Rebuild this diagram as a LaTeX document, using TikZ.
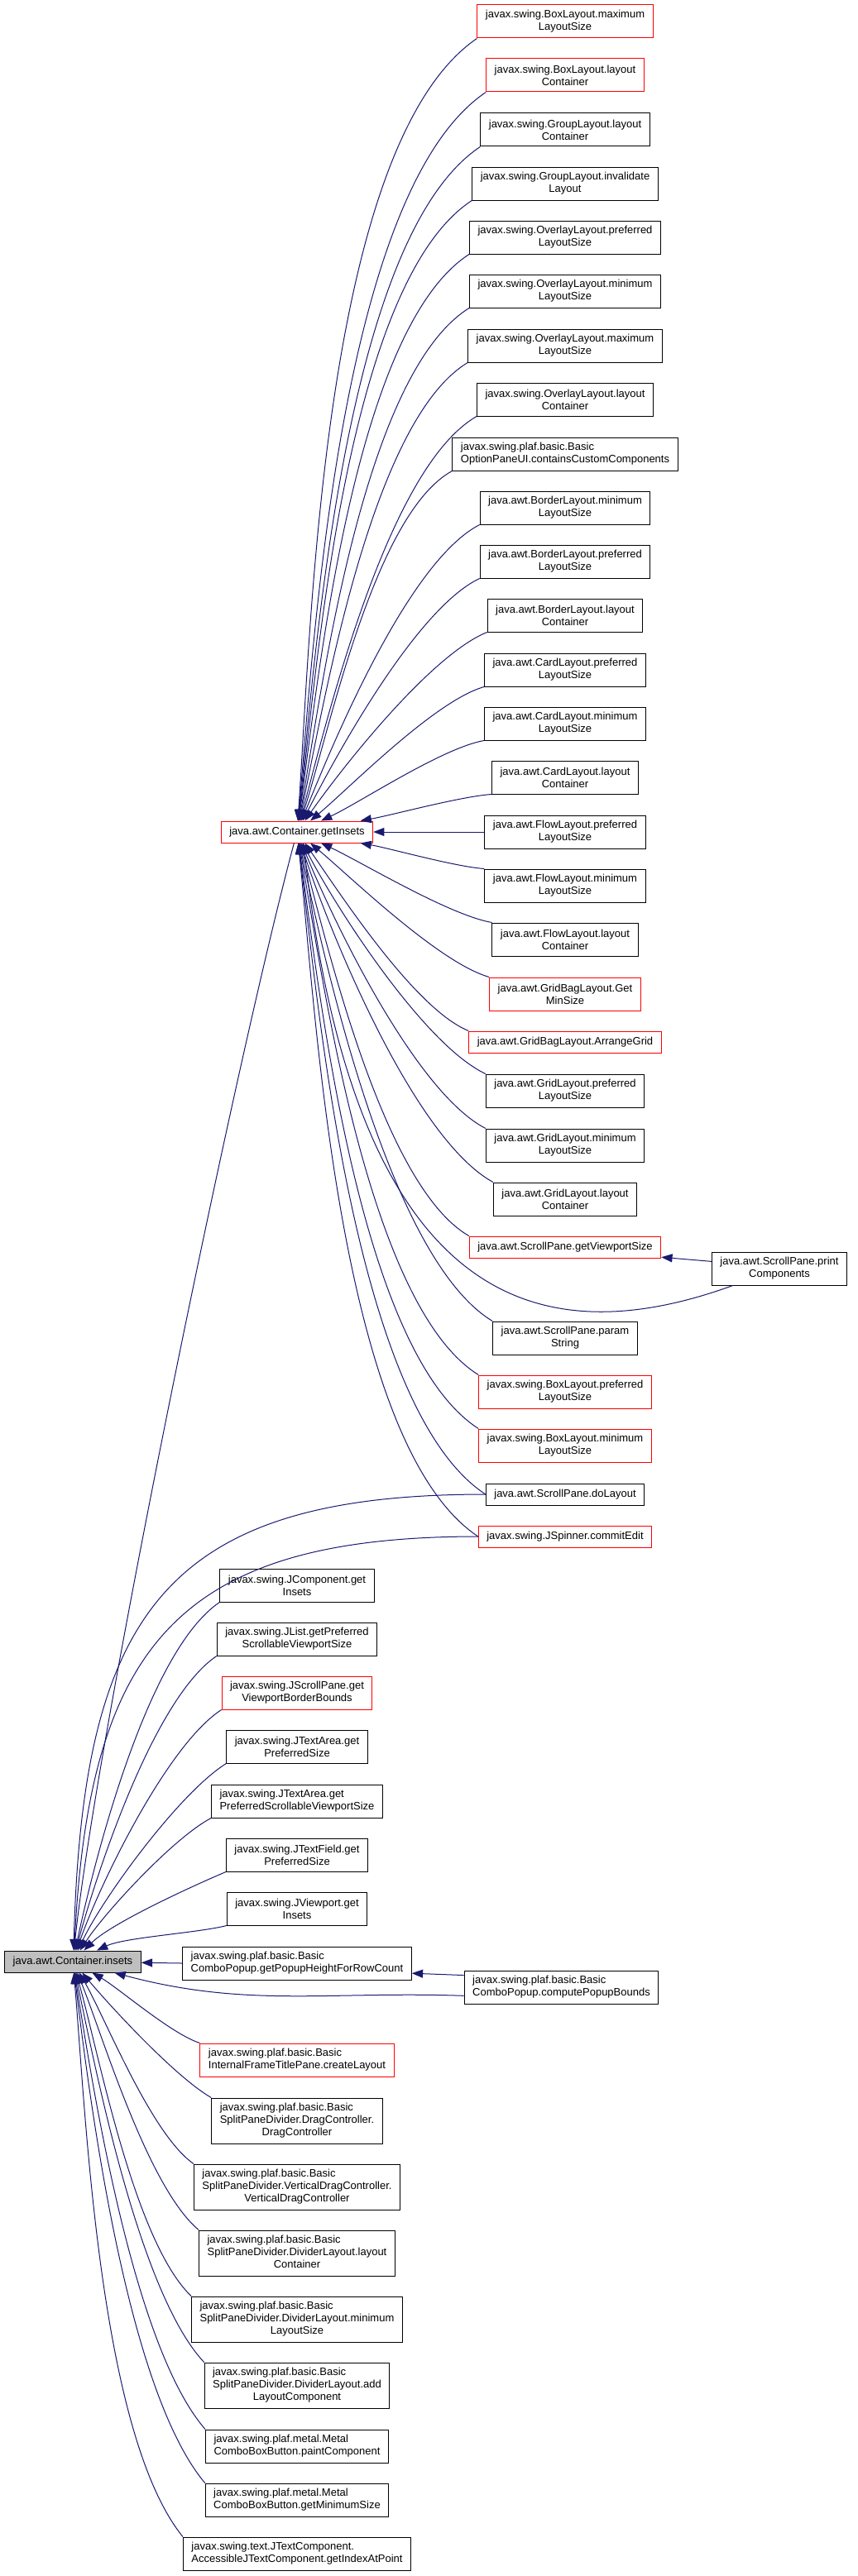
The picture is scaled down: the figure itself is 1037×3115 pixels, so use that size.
\documentclass[tikz,border=0pt]{standalone}
\usepackage{fontspec}
\setmainfont{Liberation Sans}
\usepackage{xcolor}
\usepackage{tikz}
\usetikzlibrary{arrows.meta}

\definecolor{edgeblue}{HTML}{191970}
\newcommand{\mixlines}[3]{\begin{tabular}{@{}l@{}}#1\\#2\\\multicolumn{1}{@{}c@{}}{#3}\end{tabular}}

\tikzset{
  fnbox/.style={draw=black, fill=white, line width=0.75pt,
    font=\fontsize{9.75}{11.25}\selectfont,
    inner xsep=7.5pt, inner ysep=1pt, minimum height=30pt},
  fn/.style={fnbox, align=center},
  fnl/.style={fnbox, align=left},
  hot/.style={draw=red},
  oneline/.style={minimum height=19.5pt},
  threeline/.style={minimum height=41.25pt},
  call/.style={draw=edgeblue, line width=0.75pt, -{Triangle[length=10pt,width=7.5pt]}},
}

\begin{document}
\begin{tikzpicture}[x=0.75pt, y=-0.75pt]
  \useasboundingbox (0,0) rectangle (1037,3115);

  % callers of getInsets
  \node[fn, hot] (bmax) at (683,26) {javax.swing.BoxLayout.maximum\\LayoutSize};
  \node[fn, hot] (blay) at (683,91) {javax.swing.BoxLayout.layout\\Container};
  \node[fn] (glay) at (683,157) {javax.swing.GroupLayout.layout\\Container};
  \node[fn] (ginv) at (683,222) {javax.swing.GroupLayout.invalidate\\Layout};
  \node[fn] (opref) at (683,287) {javax.swing.OverlayLayout.preferred\\LayoutSize};
  \node[fn] (omin) at (683,352) {javax.swing.OverlayLayout.minimum\\LayoutSize};
  \node[fn] (omax) at (683,418) {javax.swing.OverlayLayout.maximum\\LayoutSize};
  \node[fn] (olay) at (683,483) {javax.swing.OverlayLayout.layout\\Container};
  \node[fnl] (opt) at (683,549) {javax.swing.plaf.basic.Basic\\OptionPaneUI.containsCustomComponents};
  \node[fn] (bmin) at (683,614) {java.awt.BorderLayout.minimum\\LayoutSize};
  \node[fn] (bpref) at (683,679) {java.awt.BorderLayout.preferred\\LayoutSize};
  \node[fn] (blo) at (683,744) {java.awt.BorderLayout.layout\\Container};
  \node[fn] (cpref) at (683,810) {java.awt.CardLayout.preferred\\LayoutSize};
  \node[fn] (cmin) at (683,875) {java.awt.CardLayout.minimum\\LayoutSize};
  \node[fn] (clay) at (683,940) {java.awt.CardLayout.layout\\Container};
  \node[fn] (fpref) at (683,1006) {java.awt.FlowLayout.preferred\\LayoutSize};
  \node[fn] (fmin) at (683,1071) {java.awt.FlowLayout.minimum\\LayoutSize};
  \node[fn] (flay) at (683,1136) {java.awt.FlowLayout.layout\\Container};
  \node[fn, hot] (gbmin) at (683,1202) {java.awt.GridBagLayout.Get\\MinSize};
  \node[fn, hot, oneline] (gbarr) at (683,1260) {java.awt.GridBagLayout.ArrangeGrid};
  \node[fn] (grpref) at (683,1319) {java.awt.GridLayout.preferred\\LayoutSize};
  \node[fn] (grmin) at (683,1385) {java.awt.GridLayout.minimum\\LayoutSize};
  \node[fn] (grlay) at (683,1450) {java.awt.GridLayout.layout\\Container};
  \node[fn, hot, oneline] (gvs) at (683,1508) {java.awt.ScrollPane.getViewportSize};
  \node[fn] (spar) at (683,1618) {java.awt.ScrollPane.param\\String};
  \node[fn, hot] (bpref2) at (683,1683) {javax.swing.BoxLayout.preferred\\LayoutSize};
  \node[fn, hot] (bmin2) at (683,1748) {javax.swing.BoxLayout.minimum\\LayoutSize};
  \node[fn, oneline] (dl) at (683,1807) {java.awt.ScrollPane.doLayout};
  \node[fn, hot, oneline] (ce) at (683,1858) {javax.swing.JSpinner.commitEdit};
  \node[fn] (pc) at (942,1534) {java.awt.ScrollPane.print\\Components};

  \node[fn, hot, oneline] (gi) at (359,1006) {java.awt.Container.getInsets};
  \node[fn, oneline, fill=black!25] (ins) at (88,2372) {java.awt.Container.insets};

  % callers of insets
  \node[fn] (jcomp) at (359,1917) {javax.swing.JComponent.get\\Insets};
  \node[fn] (jlist) at (359,1982) {javax.swing.JList.getPreferred\\ScrollableViewportSize};
  \node[fn, hot] (jsp) at (359,2047) {javax.swing.JScrollPane.get\\ViewportBorderBounds};
  \node[fn] (jta) at (359,2112) {javax.swing.JTextArea.get\\PreferredSize};
  \node[fnl] (jtas) at (359,2178) {javax.swing.JTextArea.get\\PreferredScrollableViewportSize};
  \node[fn] (jtf) at (359,2243) {javax.swing.JTextField.get\\PreferredSize};
  \node[fn] (jvp) at (359,2308) {javax.swing.JViewport.get\\Insets};
  \node[fnl] (gph) at (359,2374) {javax.swing.plaf.basic.Basic\\ComboPopup.getPopupHeightForRowCount};
  \node[fnl, hot] (ift) at (359,2491) {javax.swing.plaf.basic.Basic\\InternalFrameTitlePane.createLayout};
  \node[fnbox, threeline] (drag) at (359,2564.5) {\mixlines{javax.swing.plaf.basic.Basic}{SplitPaneDivider.DragController.}{DragController}};
  \node[fnbox, threeline] (vdrag) at (359,2644.5) {\mixlines{javax.swing.plaf.basic.Basic}{SplitPaneDivider.VerticalDragController.}{VerticalDragController}};
  \node[fnbox, threeline] (dlay) at (359,2724.5) {\mixlines{javax.swing.plaf.basic.Basic}{SplitPaneDivider.DividerLayout.layout}{Container}};
  \node[fnbox, threeline] (dmin) at (359,2804.5) {\mixlines{javax.swing.plaf.basic.Basic}{SplitPaneDivider.DividerLayout.minimum}{LayoutSize}};
  \node[fnbox, threeline] (dadd) at (359,2884.5) {\mixlines{javax.swing.plaf.basic.Basic}{SplitPaneDivider.DividerLayout.add}{LayoutComponent}};
  \node[fnl] (mpaint) at (359,2958) {javax.swing.plaf.metal.Metal\\ComboBoxButton.paintComponent};
  \node[fnl] (mmin) at (359,3023) {javax.swing.plaf.metal.Metal\\ComboBoxButton.getMinimumSize};
  \node[fnl] (tidx) at (359,3088) {javax.swing.text.JTextComponent.\\AccessibleJTextComponent.getIndexAtPoint};
  \node[fnl] (cpb) at (678.5,2403) {javax.swing.plaf.basic.Basic\\ComboPopup.computePopupBounds};

  % edges into getInsets
  \foreach \n/\s/\a in {bmax/south west/86, blay/south west/85, glay/south west/84,
      ginv/south west/83, opref/south west/82, omin/south west/80, omax/south west/78,
      olay/south west/75, opt/south west/72, bmin/south west/68, bpref/south west/63,
      blo/south west/55, cpref/south west/40, cmin/south west/25, clay/south west/10,
      fpref/west/0, fmin/north west/-10, flay/north west/-25, gbmin/north west/-40,
      gbarr/north west/-55, grpref/north west/-63, grmin/north west/-68,
      grlay/north west/-72, gvs/north west/-75, spar/north west/-78,
      bpref2/north west/-80, bmin2/north west/-82, dl/west/-83, ce/west/-84} {
    \pgfmathsetmacro{\outang}{180+0.4*\a}
    \draw[call] (\n.\s) to[out=\outang, in=\a, looseness=0.6] (gi);
  }
  \draw[call] (pc.174) -- (gvs.-6);
  \draw[call] (pc.200) .. controls (650,1640) and (430,1580) .. (gi.-60);

  % edges into insets
  \foreach \n/\s/\o/\a in {jcomp/south west/214/78, jlist/south west/214/75,
      jsp/south west/213/71, jta/south west/212/65, jtas/south west/208/57,
      jtf/south west/203/45, jvp/south west/194/25, ift/north west/162/-30,
      drag/north west/150/-50, vdrag/north west/145/-60, dlay/north west/140/-68,
      dmin/north west/136/-74, dadd/north west/133/-78, mpaint/north west/131/-81,
      mmin/north west/130/-83, tidx/north west/129/-85} {
    \draw[call] (\n.\s) to[out=\o, in=\a, looseness=0.6] (ins);
  }
  \draw[call] (gph.west) -- (ins);
  \draw[call] (gi) to[out=-105, in=84, looseness=0.5] (ins);
  \draw[call] (dl.west) .. controls (200,1807) and (100,1950) .. (ins.86);
  \draw[call] (ce.west) .. controls (215,1858) and (108,1990) .. (ins.83);
  \draw[call] (cpb.173) -- (gph.-5);
  \draw[call] (cpb.185) to[out=178, in=-15] (ins);
\end{tikzpicture}
\end{document}
